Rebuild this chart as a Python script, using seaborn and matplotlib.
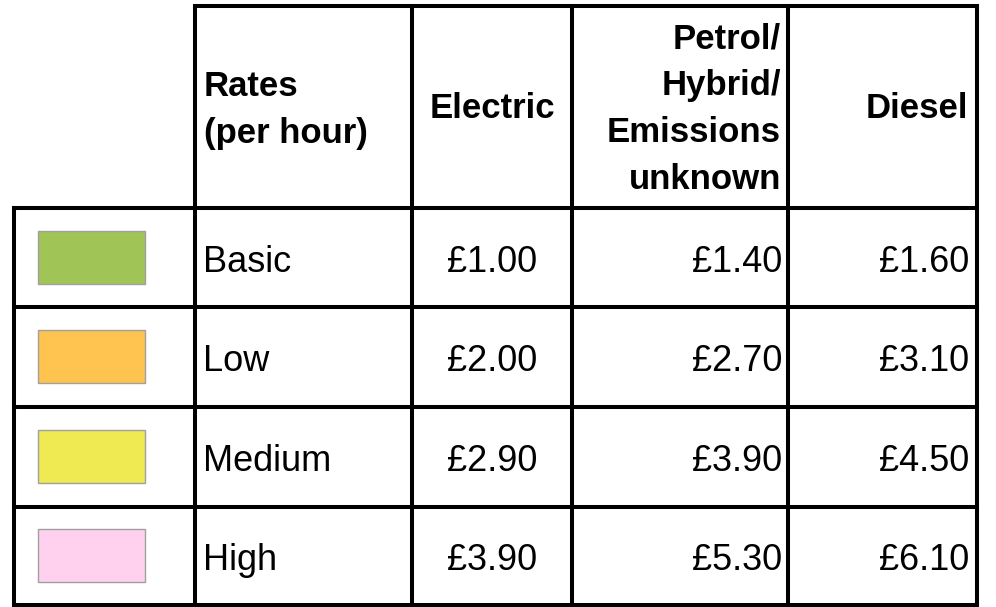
import matplotlib
matplotlib.use("Agg")
import matplotlib.pyplot as plt
import seaborn as sns
from matplotlib.patches import Rectangle

# data
header_rates = "Rates\n(per hour)"
fuel_types = ["Electric", "Petrol/\nHybrid/\nEmissions\nunknown", "Diesel"]
bands = ["Basic", "Low", "Medium", "High"]
band_colors = ["#a1c457", "#ffc34f", "#efea52", "#ffd1ee"]
electric = [1.00, 2.00, 2.90, 3.90]
petrol = [1.40, 2.70, 3.90, 5.30]
diesel = [1.60, 3.10, 4.50, 6.10]

sns.set_theme(style="white")
plt.rcParams['font.family'] = ['Liberation Sans', 'DejaVu Sans']

# table layout in pixels
col_x = [14, 195, 412, 572, 788, 977]
row_y = [6, 208, 307, 407, 507, 605]
lw = 2.9

fig = plt.figure(figsize=(9.96, 6.07), dpi=100)
ax = fig.add_axes([0, 0, 1, 1])
ax.set_xlim(0, 996)
ax.set_ylim(607, 0)
ax.axis("off")

# grid lines
ax.plot([col_x[1], col_x[-1]], [row_y[0], row_y[0]], color="black", lw=lw, solid_capstyle="projecting")
for y in row_y[1:]:
    ax.plot([col_x[0], col_x[-1]], [y, y], color="black", lw=lw, solid_capstyle="projecting")
ax.plot([col_x[0], col_x[0]], [row_y[1], row_y[-1]], color="black", lw=lw, solid_capstyle="projecting")
for x in col_x[1:]:
    ax.plot([x, x], [row_y[0], row_y[-1]], color="black", lw=lw, solid_capstyle="projecting")

# header
hy = (row_y[0] + row_y[1]) / 2 + 2
hfont = dict(fontsize=25, fontweight="bold", color="black", linespacing=1.53)
ax.text(col_x[1] + 9, hy + 1, header_rates, ha="left", va="center", **hfont)
ax.text((col_x[2] + col_x[3]) / 2, hy, fuel_types[0], ha="center", va="center", **hfont)
ax.text(col_x[4] - 7, hy, fuel_types[1], ha="right", va="center", multialignment="right", **hfont)
ax.text(col_x[5] - 9, hy, fuel_types[2], ha="right", va="center", **hfont)

# body rows
bfont = dict(fontsize=26, color="black")
for i, band in enumerate(bands):
    y0, y1 = row_y[i + 1], row_y[i + 2]
    cy = (y0 + y1) / 2
    ax.add_patch(Rectangle((38, cy - 27), 107, 53, facecolor=band_colors[i],
                           edgecolor="#a0a0a0", lw=1))
    by = cy + 14
    ax.text(col_x[1] + 8, by, band, ha="left", va="baseline", **bfont)
    ax.text((col_x[2] + col_x[3]) / 2, by, f"£{electric[i]:.2f}", ha="center", va="baseline", **bfont)
    ax.text(col_x[4] - 6, by, f"£{petrol[i]:.2f}", ha="right", va="baseline", **bfont)
    ax.text(col_x[5] - 8, by, f"£{diesel[i]:.2f}", ha="right", va="baseline", **bfont)

fig.savefig("out.png", dpi=100, facecolor="white")
